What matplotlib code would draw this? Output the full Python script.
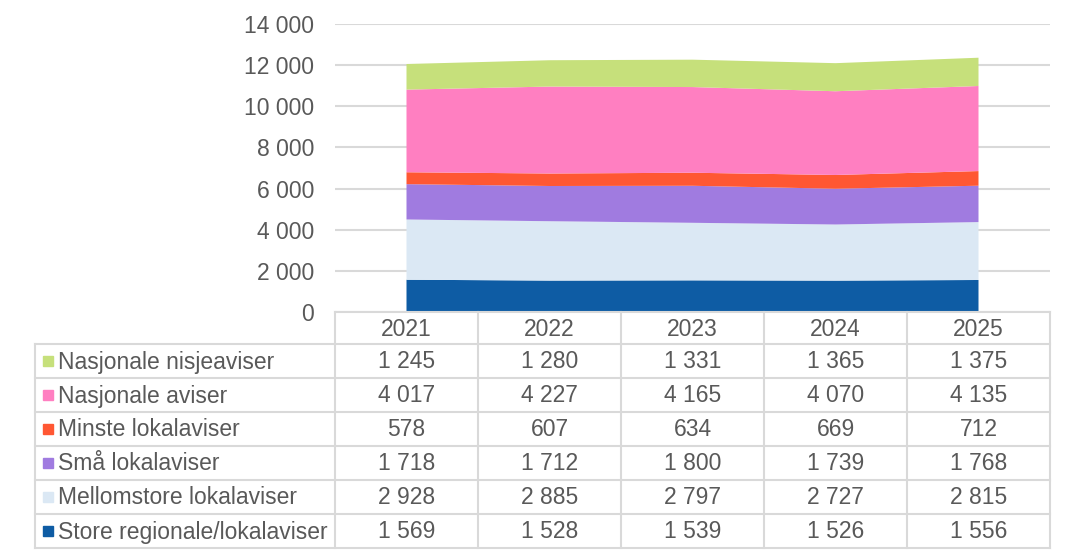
import matplotlib
matplotlib.use("Agg")
import matplotlib.pyplot as plt
from matplotlib.patches import Rectangle

plt.rcParams["font.family"] = ["Liberation Sans", "DejaVu Sans"]

# Data (bottom to top in the stack)
years = ["2021", "2022", "2023", "2024", "2025"]
series_names = [
    "Store regionale/lokalaviser",
    "Mellomstore lokalaviser",
    "Små lokalaviser",
    "Minste lokalaviser",
    "Nasjonale aviser",
    "Nasjonale nisjeaviser",
]
store = [1569, 1528, 1539, 1526, 1556]
mellomstore = [2928, 2885, 2797, 2727, 2815]
smaa = [1718, 1712, 1800, 1739, 1768]
minste = [578, 607, 634, 669, 712]
nasjonale = [4017, 4227, 4165, 4070, 4135]
nisje = [1245, 1280, 1331, 1365, 1375]
series_values = [store, mellomstore, smaa, minste, nasjonale, nisje]
colors = ["#0E5CA4", "#DBE8F4", "#A07BE0", "#FF5733", "#FF7FC1", "#C6E07B"]
y_ticks = [0, 2000, 4000, 6000, 8000, 10000, 12000, 14000]

W, H = 1074, 556
text_color = "#595959"
line_color = "#D9D9D9"
fs = 16.5

# layout in pixels
plot_left, plot_right = 335, 1050
plot_top, plot_bottom = 24, 312
table_left = 35
head_h = 32
row_h = 34

fig = plt.figure(figsize=(W / 100, H / 100), dpi=100)
ax = fig.add_axes([plot_left / W, 1 - plot_bottom / H,
                   (plot_right - plot_left) / W, (plot_bottom - plot_top) / H])

x = list(range(len(years)))
ax.stackplot(x, *series_values, colors=colors, linewidth=0, zorder=2)
ax.set_xlim(-0.5, len(years) - 0.5)
ax.set_ylim(0, 14000)
ax.set_yticks(y_ticks)
ax.set_yticklabels([f"{v:,}".replace(",", " ") for v in y_ticks],
                   fontsize=fs, color=text_color)
ax.tick_params(axis="y", length=0, pad=15)
ax.set_xticks([])
ax.grid(axis="y", color=line_color, linewidth=1.5, zorder=0)
for s in ax.spines.values():
    s.set_visible(False)

# table drawn in pixel coordinates on an overlay axes
tax = fig.add_axes([0, 0, 1, 1])
tax.set_xlim(0, W)
tax.set_ylim(H, 0)
tax.axis("off")

col_w = (plot_right - plot_left) / len(years)
n_rows = len(series_names)
body_top = plot_bottom + head_h
table_bottom = body_top + row_h * n_rows
lw = 1.5

# header row
tax.plot([plot_left, plot_right], [plot_bottom, plot_bottom], color=line_color, lw=lw)
for i, yr in enumerate(years):
    cx = plot_left + col_w * (i + 0.5)
    tax.text(cx, plot_bottom + head_h / 2 + 1, yr, ha="center", va="center",
             fontsize=fs, color=text_color)

# horizontal lines
for r in range(n_rows + 1):
    yy = body_top + row_h * r
    tax.plot([table_left, plot_right], [yy, yy], color=line_color, lw=lw)
# vertical lines
tax.plot([table_left, table_left], [body_top, table_bottom], color=line_color, lw=lw)
for i in range(len(years) + 1):
    xx = plot_left + col_w * i
    tax.plot([xx, xx], [plot_bottom, table_bottom], color=line_color, lw=lw)

# rows, top to bottom = reversed stack order
for r, k in enumerate(reversed(range(n_rows))):
    cy = body_top + row_h * (r + 0.5)
    tax.add_patch(Rectangle((43, cy - 5), 10, 10, color=colors[k]))
    tax.text(58, cy + 1, series_names[k], ha="left", va="center",
             fontsize=fs, color=text_color)
    for i, v in enumerate(series_values[k]):
        cx = plot_left + col_w * (i + 0.5)
        tax.text(cx, cy + 1, f"{v:,}".replace(",", " "), ha="center", va="center",
                 fontsize=fs, color=text_color)

fig.savefig("out.png", dpi=100)
